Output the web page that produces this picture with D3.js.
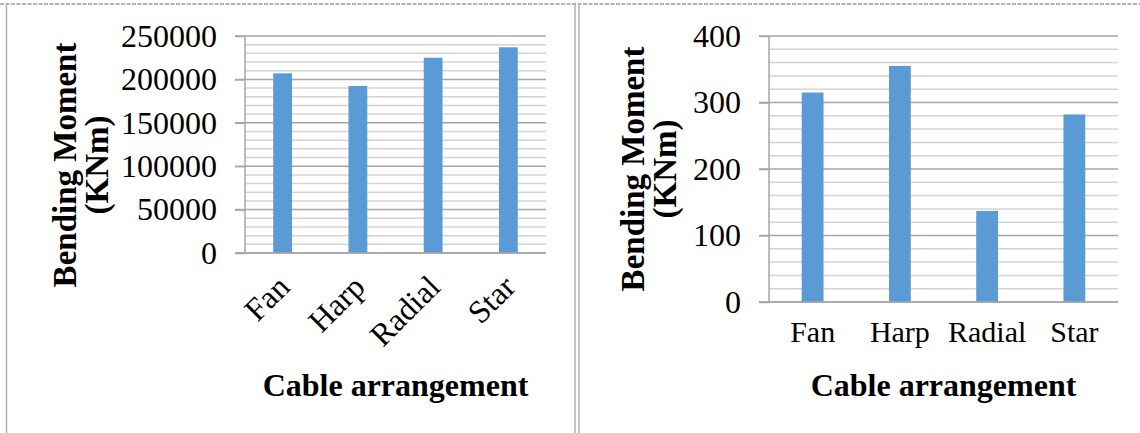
<!DOCTYPE html>
<html>
<head>
<meta charset="utf-8">
<script src="https://cdn.jsdelivr.net/npm/d3@7"></script>
<style>
  html, body { margin: 0; padding: 0; background: #fff; }
  svg { display: block; }
  text { font-family: "Liberation Serif", "Times New Roman", serif; fill: #000; }
</style>
</head>
<body>
<svg id="chart" width="1140" height="433"></svg>
<script>
// Bending moment for each cable arrangement
const categories = ["Fan", "Harp", "Radial", "Star"];
const momentA = [207000, 192500, 225000, 237000];
const momentB = [315, 355, 137, 282];
const ticksA = [0, 50000, 100000, 150000, 200000, 250000];
const ticksB = [0, 100, 200, 300, 400];
const minorStepA = 10000;
const minorStepB = 20;

const yTitle = ["Bending Moment", "(KNm)"];
const xTitle = "Cable arrangement";

const svg = d3.select("#chart");
const BAR = "#5B9BD5";
const MAJOR = "#a6a6a6";
const MINOR = "#d4d4d4";

// Page frame: dashed top rule, left rule and a double rule between panels
const frame = svg.append("g");
frame.append("line").attr("x1", 0).attr("x2", 1140).attr("y1", 4).attr("y2", 4)
  .attr("stroke", "#9a9a9a").attr("stroke-width", 1.5).attr("stroke-dasharray", "4,1.5");
frame.append("line").attr("x1", 6.5).attr("x2", 6.5).attr("y1", 5).attr("y2", 433)
  .attr("stroke", "#b0b0b0").attr("stroke-width", 1.5);
[575, 579].forEach(x => frame.append("line").attr("x1", x).attr("x2", x).attr("y1", 4).attr("y2", 433)
  .attr("stroke", "#b0b0b0").attr("stroke-width", 1.5));

function panel(cfg) {
  const g = svg.append("g");
  const x = d3.scaleBand().domain(categories).range([cfg.x0, cfg.x1])
    .paddingInner(0.75).paddingOuter(0.375);
  const y = d3.scaleLinear().domain([0, d3.max(cfg.ticks)]).range([cfg.yBot, cfg.yTop]);

  // minor gridlines
  const minors = d3.range(0, d3.max(cfg.ticks) + 1e-9, cfg.minor)
    .filter(v => !cfg.ticks.includes(v));
  g.append("g").selectAll("line").data(minors).join("line")
    .attr("x1", cfg.x0).attr("x2", cfg.x1)
    .attr("y1", d => y(d)).attr("y2", d => y(d))
    .attr("stroke", MINOR).attr("stroke-width", 1.5);

  // major gridlines with outside tick marks
  g.append("g").selectAll("line").data(cfg.ticks).join("line")
    .attr("x1", cfg.x0 - 10).attr("x2", cfg.x1)
    .attr("y1", d => y(d)).attr("y2", d => y(d))
    .attr("stroke", MAJOR).attr("stroke-width", 1.5);

  // bars
  g.append("g").selectAll("rect").data(cfg.values).join("rect")
    .attr("x", (d, i) => x(categories[i]))
    .attr("width", x.bandwidth())
    .attr("y", d => y(d))
    .attr("height", d => y(0) - y(d))
    .attr("fill", BAR);

  // value axis
  const ya = d3.axisLeft(y).tickValues(cfg.ticks).tickSize(10).tickPadding(18)
    .tickFormat(d3.format("d"));
  const yg = g.append("g").attr("transform", `translate(${cfg.x0},0)`).call(ya);
  yg.select(".domain").attr("stroke", MAJOR).attr("stroke-width", 1.5)
    .attr("d", `M0,${cfg.yTop}V${cfg.yBot}`);
  yg.selectAll(".tick line").attr("stroke", MAJOR).attr("stroke-width", 1.5);
  yg.selectAll(".tick text").attr("font-size", 32).attr("font-family", "Liberation Serif")
    .attr("fill", "#000");

  // category axis baseline
  g.append("line").attr("x1", cfg.x0 - 10).attr("x2", cfg.x1)
    .attr("y1", cfg.yBot).attr("y2", cfg.yBot)
    .attr("stroke", MAJOR).attr("stroke-width", 1.5);

  // category labels
  const cl = g.append("g").selectAll("text").data(categories).join("text")
    .attr("font-size", cfg.rotate ? 32 : 30).text(d => d);
  if (cfg.rotate) {
    cl.attr("text-anchor", "end")
      .attr("transform", d => `translate(${x(d) + x.bandwidth() / 2 - 7},${cfg.yBot + 20}) rotate(-45)`)
      .attr("dy", "0.7em");
  } else {
    cl.attr("text-anchor", "middle")
      .attr("x", d => x(d) + x.bandwidth() / 2)
      .attr("y", cfg.yBot + 40);
  }

  // axis titles
  g.append("text").attr("font-size", 32).attr("font-weight", "bold")
    .attr("text-anchor", "middle")
    .attr("x", (cfg.x0 + cfg.x1) / 2).attr("y", 396).text(xTitle);

  const yt = g.append("text").attr("font-size", 33).attr("font-weight", "bold")
    .attr("text-anchor", "middle")
    .attr("transform", `translate(${cfg.titleX},${cfg.titleY}) rotate(-90)`);
  yt.selectAll("tspan").data(yTitle).join("tspan")
    .attr("x", 0).attr("dy", (d, i) => i === 0 ? 0 : 32).text(d => d);
}

panel({ x0: 245, x1: 546, yTop: 36, yBot: 253, ticks: ticksA, minor: minorStepA,
        values: momentA, rotate: true, titleX: 76, titleY: 165 });
panel({ x0: 769, x1: 1118, yTop: 36, yBot: 302, ticks: ticksB, minor: minorStepB,
        values: momentB, rotate: false, titleX: 644, titleY: 169 });
</script>
</body>
</html>
